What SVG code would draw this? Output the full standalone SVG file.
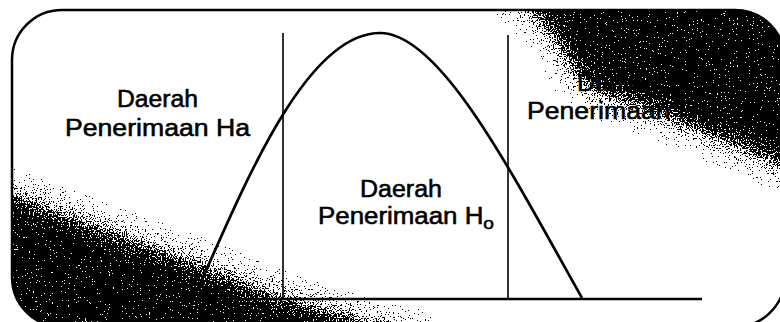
<svg xmlns="http://www.w3.org/2000/svg" width="780" height="322" viewBox="0 0 780 322">
  <defs>
    <style>
      .lbl{font-family:"Liberation Sans",Arial,sans-serif;font-size:23px;fill:#000;stroke:#000;stroke-width:0.55px}
      .ln{stroke:#000;fill:none}
    </style>
    <clipPath id="frameClip">
      <rect x="12" y="10" width="773" height="317" rx="50" ry="50"/>
    </clipPath>
    <filter id="scan" filterUnits="userSpaceOnUse" x="0" y="0" width="780" height="322" color-interpolation-filters="sRGB">
      <feGaussianBlur in="SourceAlpha" stdDeviation="12" result="soft"/>
      <feTurbulence type="fractalNoise" baseFrequency="0.75" numOctaves="2" seed="4" result="noise"/>
      <feColorMatrix in="noise" type="matrix" values="0 0 0 0 0  0 0 0 0 0  0 0 0 0 0  2.2 0 0 0 -0.6" result="na"/>
      <feComposite in="soft" in2="na" operator="arithmetic" k1="0" k2="1" k3="-1" k4="0.49" result="d"/>
      <feComponentTransfer in="d" result="t">
        <feFuncA type="discrete" tableValues="0 1"/>
      </feComponentTransfer>
      <feColorMatrix in="t" type="matrix" values="0 0 0 0 0  0 0 0 0 0  0 0 0 0 0  0 0 0 1 0"/>
    </filter>
  </defs>

  <rect width="780" height="322" fill="#fff"/>

  <g id="scan-shading" clip-path="url(#frameClip)">
    <g filter="url(#scan)">
      <path d="M470,-40 L520,0 L535,15 L560,45 L578,80 L605,95 L650,110 L712,136 L780,165 L830,172 L830,-40 Z"/>
      <path d="M-30,185 L12,194 L100,228 L200,264 L270,294 L335,312 L420,336 L420,370 L-30,370 Z"/>
    </g>
  </g>

  <g id="frame">
    <rect x="12" y="10" width="773" height="317" rx="50" ry="50" fill="none" stroke="#000" stroke-width="2.5"/>
  </g>

  <g id="connectors">
    <line class="ln" x1="160" y1="299" x2="702" y2="299" stroke-width="2.5"/>
    <line class="ln" x1="283" y1="33" x2="283" y2="299" stroke-width="1.6"/>
    <line class="ln" x1="508" y1="35" x2="508" y2="299" stroke-width="1.6"/>
  </g>

  <g id="curve">
    <path class="ln" stroke-width="2.7" d="M193,299 C235,210 300,33 380,33 C440,33 510,170 582,298"/>
  </g>

  <g id="label-left">
    <text class="lbl" x="117" y="107" textLength="81" lengthAdjust="spacingAndGlyphs">Daerah</text>
    <text class="lbl" x="65" y="136" textLength="185" lengthAdjust="spacingAndGlyphs">Penerimaan Ha</text>
  </g>

  <g id="label-middle">
    <text class="lbl" x="360" y="197" textLength="82" lengthAdjust="spacingAndGlyphs">Daerah</text>
    <text class="lbl" x="318" y="224" textLength="176" lengthAdjust="spacingAndGlyphs">Penerimaan H<tspan dy="5" font-size="17">o</tspan></text>
  </g>

  <g id="label-right">
    <text class="lbl" x="577" y="91" textLength="82" lengthAdjust="spacingAndGlyphs">Daerah</text>
    <text class="lbl" x="527" y="119" textLength="185" lengthAdjust="spacingAndGlyphs">Penerimaan Ha</text>
  </g>
</svg>
